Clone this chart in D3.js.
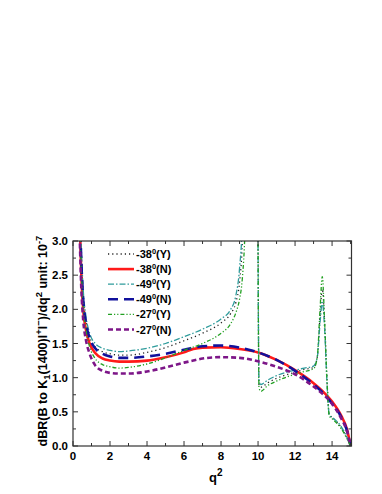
<!DOCTYPE html>
<html>
<head>
<script src="https://d3js.org/d3.v7.min.js"></script>
<style>
body { margin: 0; background: #fff; }
text { font-family: "Liberation Sans", Arial, sans-serif; font-weight: bold; }
</style>
</head>
<body>
<svg width=382 height=494></svg>
<script>
// q^2 sample points and dBR values (unit 1e-7)
var q2_N = [0.35,0.45,0.55,0.7,0.9,1.2,1.6,2,2.5,3,4,5,6,6.5,7,8,9,10,11,12,13,13.5,14,14.5,14.8,15];
var m38_N = [3.4,2.5,2.0,1.7,1.5,1.36,1.28,1.25,1.235,1.235,1.25,1.3,1.37,1.42,1.44,1.445,1.42,1.37,1.26,1.11,0.92,0.8,0.65,0.44,0.25,0];
var m49_N = [3.6,2.7,2.15,1.8,1.58,1.43,1.35,1.31,1.29,1.29,1.31,1.35,1.41,1.44,1.46,1.47,1.44,1.37,1.26,1.1,0.9,0.78,0.62,0.42,0.23,0];
var m27_N = [3.2,2.3,1.85,1.55,1.35,1.18,1.1,1.07,1.06,1.06,1.09,1.15,1.22,1.25,1.28,1.30,1.29,1.24,1.16,1.05,0.87,0.76,0.62,0.4,0.22,0];

var q2_Y = [0.35,0.45,0.55,0.7,0.9,1.2,1.6,2,2.5,3,4,5,6,7,8,8.5,8.8,9.0,9.15,9.3,9.6,9.9,9.98,10.05,10.15,10.5,11,12,12.5,13,13.2,13.35,13.47,13.6,13.72,13.85,14,14.5,14.8,15];
var m38_Y = [3.7,2.8,2.2,1.85,1.6,1.45,1.38,1.35,1.33,1.33,1.37,1.44,1.54,1.65,1.8,1.93,2.1,2.4,3.0,5,8,8,4,0.9,0.86,0.92,0.99,1.08,1.12,1.15,1.3,1.9,2.3,1.8,1.0,0.46,0.42,0.27,0.12,0];
var m49_Y = [3.8,2.9,2.3,1.9,1.65,1.5,1.43,1.4,1.38,1.39,1.43,1.5,1.6,1.71,1.86,1.99,2.2,2.6,3.3,6,8,8,4,0.95,0.9,0.96,1.03,1.11,1.14,1.17,1.3,1.8,2.1,1.7,0.95,0.45,0.42,0.28,0.13,0];
var m27_Y = [3.5,2.6,2.05,1.7,1.45,1.28,1.19,1.16,1.14,1.15,1.2,1.29,1.4,1.5,1.65,1.78,1.95,2.15,2.45,3.2,8,8,4,0.85,0.8,0.88,0.95,1.05,1.09,1.13,1.3,2.0,2.48,1.8,1.0,0.44,0.4,0.25,0.11,0];

var legendNames = ["-38", "-38", "-49", "-49", "-27", "-27"];
var legendTags = ["(Y)", "(N)", "(Y)", "(N)", "(Y)", "(N)"];
var xTicks = [0,2,4,6,8,10,12,14];
var yTicks = [0.0,0.5,1.0,1.5,2.0,2.5,3.0];

var series = [
  {x: q2_Y, y: m38_Y, color: "#222", width: 1.3, dash: "1.2,3"},
  {x: q2_N, y: m38_N, color: "#ff1a1a", width: 2.6, dash: null},
  {x: q2_Y, y: m49_Y, color: "#2f9c9c", width: 1.3, dash: "6,2,1.5,2"},
  {x: q2_N, y: m49_N, color: "#11119c", width: 2.6, dash: "10,6"},
  {x: q2_Y, y: m27_Y, color: "#22a022", width: 1.3, dash: "4,2,1.2,2,1.2,2"},
  {x: q2_N, y: m27_N, color: "#7d1688", width: 2.6, dash: "5,3"}
];

var svg = d3.select("svg");
var pLeft = 73, pRight = 351.5, pTop = 241, pBottom = 446;
var x = d3.scaleLinear().domain([0, 15.05]).range([pLeft, pRight]);
var y = d3.scaleLinear().domain([0, 3]).range([pBottom, pTop]);

svg.append("clipPath").attr("id", "clip")
  .append("rect").attr("x", pLeft).attr("y", pTop).attr("width", pRight - pLeft).attr("height", pBottom - pTop);

// curves
var line = d3.line().curve(d3.curveMonotoneX);
var g = svg.append("g").attr("clip-path", "url(#clip)");
series.forEach(function(s) {
  var pts = s.x.map(function(v, i) { return [x(v), y(s.y[i])]; });
  g.append("path")
    .attr("d", line(pts))
    .attr("fill", "none")
    .attr("stroke", s.color)
    .attr("stroke-width", s.width)
    .attr("stroke-dasharray", s.dash);
});

// frame and ticks (all pointing inward)
var axisColor = "#333";
svg.append("rect").attr("x", pLeft).attr("y", pTop).attr("width", pRight - pLeft).attr("height", pBottom - pTop)
  .attr("fill", "none").attr("stroke", axisColor).attr("stroke-width", 1.2);

d3.range(0, 16).forEach(function(v) {
  var len = v % 2 == 0 ? 5 : 3;
  svg.append("line").attr("x1", x(v)).attr("x2", x(v)).attr("y1", pBottom).attr("y2", pBottom - len).attr("stroke", axisColor);
  svg.append("line").attr("x1", x(v)).attr("x2", x(v)).attr("y1", pTop).attr("y2", pTop + len).attr("stroke", axisColor);
});
d3.range(0, 13).forEach(function(i) {
  var v = i * 0.25;
  var len = i % 2 == 0 ? 5 : 3;
  svg.append("line").attr("x1", pLeft).attr("x2", pLeft + len).attr("y1", y(v)).attr("y2", y(v)).attr("stroke", axisColor);
  svg.append("line").attr("x1", pRight).attr("x2", pRight - len).attr("y1", y(v)).attr("y2", y(v)).attr("stroke", axisColor);
});

svg.append("g").selectAll("text").data(xTicks).enter().append("text")
  .attr("x", function(d) { return x(d); })
  .attr("y", 460)
  .attr("text-anchor", "middle")
  .attr("font-size", 11.5)
  .text(function(d) { return d; });

svg.append("g").selectAll("text").data(yTicks).enter().append("text")
  .attr("x", 68)
  .attr("y", function(d) { return y(d) + 4; })
  .attr("text-anchor", "end")
  .attr("font-size", 11.5)
  .text(function(d) { return d.toFixed(1); });

// x label
var xl = svg.append("text").attr("x", 209).attr("y", 482).attr("font-size", 13);
xl.append("tspan").text("q");
xl.append("tspan").attr("dy", -6).attr("font-size", 10).text("2");

// y label
var yl = svg.append("text")
  .attr("transform", "translate(47,341) rotate(-90)")
  .attr("text-anchor", "middle")
  .attr("font-size", 12.5);
yl.append("tspan").text("dBR(B to K");
yl.append("tspan").attr("dy", 3).attr("font-size", 9.5).text("1");
yl.append("tspan").attr("dy", -3).text("(1400)l");
yl.append("tspan").attr("dy", -5).attr("font-size", 9.5).text("+");
yl.append("tspan").attr("dy", 5).text("l");
yl.append("tspan").attr("dy", -5).attr("font-size", 9.5).text("\u2212");
yl.append("tspan").attr("dy", 5).text(")/dq");
yl.append("tspan").attr("dy", -5).attr("font-size", 9.5).text("2");
yl.append("tspan").attr("dy", 5).text(" unit: 10");
yl.append("tspan").attr("dy", -5).attr("font-size", 9.5).text("-7");

// legend
var leg = svg.append("g");
series.forEach(function(s, i) {
  var ly = 254 + i * 15.1;
  leg.append("line").attr("x1", 108).attr("x2", 134).attr("y1", ly).attr("y2", ly)
    .attr("stroke", s.color).attr("stroke-width", s.width).attr("stroke-dasharray", s.dash);
  var t = leg.append("text").attr("x", 136).attr("y", ly + 4).attr("font-size", 11);
  t.append("tspan").text(legendNames[i]);
  t.append("tspan").attr("dy", -4).attr("font-size", 7.5).text("0");
  t.append("tspan").attr("dy", 4).text(legendTags[i]);
});
</script>
</body>
</html>
